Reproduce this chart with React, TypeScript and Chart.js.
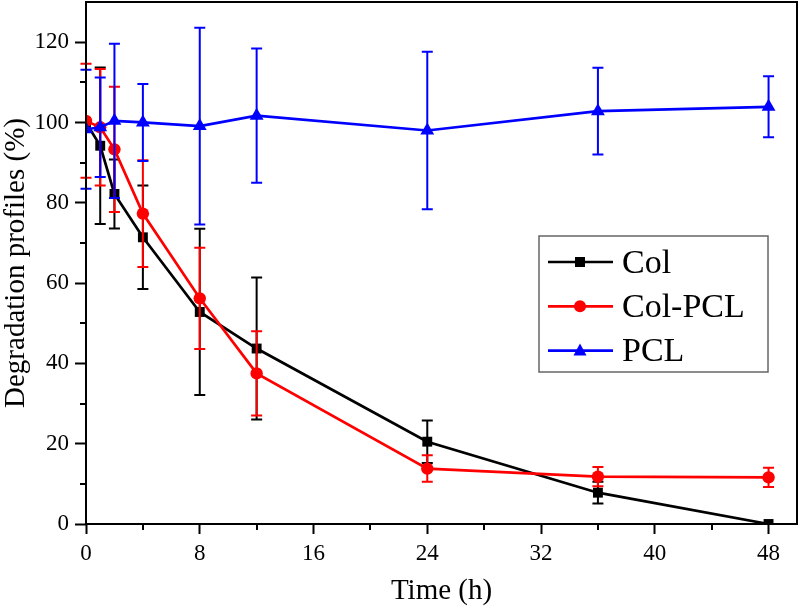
import React, { useEffect, useRef } from "react";
import { Chart, registerables } from "chart.js";

Chart.register(...registerables);

// ---- data ----
const timePoints = [0, 1, 2, 4, 8, 12, 24, 36, 48];

const colValues = [100, 94.2, 82.2, 71.4, 52.8, 43.7, 20.5, 7.8, 0];
const colErrors = [0, 19.5, 8.6, 12.9, 20.7, 17.7, 5.3, 2.7, 0];

const colPclValues = [100.4, 98.8, 93.3, 77.3, 56.2, 37.5, 13.8, 11.8, 11.6];
const colPclErrors = [14.2, 14.5, 15.6, 13.3, 12.6, 10.5, 3.3, 2.4, 2.4];

const pclValues = [98.3, 98.8, 100.4, 100.0, 99.1, 101.7, 98.0, 102.8, 103.9];
const pclErrors = [14.8, 12.4, 19.2, 9.6, 24.5, 16.7, 19.6, 10.8, 7.6];

const xMajorTicks = [0, 8, 16, 24, 32, 40, 48];
const xMinorTicks = [4, 12, 20, 28, 36, 44];
const yMajorTicks = [0, 20, 40, 60, 80, 100, 120];
const yMinorTicks = [10, 30, 50, 70, 90, 110];

const seriesNames = ["Col", "Col-PCL", "PCL"];
const seriesColors = ["#000000", "#ff0000", "#0000ff"];
const seriesMarkers = ["rect", "circle", "triangle"];
const seriesRadii = [7, 6.2, 8];

const SERIF = "'Liberation Serif', 'Times New Roman', serif";

const errorBarPlugin = {
  id: "errorBars",
  beforeDatasetDraw(chart: any, args: any) {
    const ds: any = chart.data.datasets[args.index];
    const errs: number[] = ds.errors || [];
    const ys = chart.scales.y;
    const ctx = chart.ctx;
    ctx.save();
    ctx.strokeStyle = ds.borderColor;
    ctx.lineWidth = 2;
    args.meta.data.forEach((pt: any, i: number) => {
      const e = errs[i];
      if (!e) return;
      const v = ds.data[i].y;
      const x = pt.x;
      const yt = ys.getPixelForValue(v + e);
      const yb = ys.getPixelForValue(v - e);
      const cap = 5.5;
      ctx.beginPath();
      ctx.moveTo(x, yt);
      ctx.lineTo(x, yb);
      ctx.moveTo(x - cap, yt);
      ctx.lineTo(x + cap, yt);
      ctx.moveTo(x - cap, yb);
      ctx.lineTo(x + cap, yb);
      ctx.stroke();
    });
    ctx.restore();
  },
};

const framePlugin = {
  id: "frameAndMinor",
  afterDatasetsDraw(chart: any) {
    const { ctx, chartArea } = chart;
    const xs = chart.scales.x;
    const ys = chart.scales.y;
    ctx.save();
    ctx.strokeStyle = "#000";
    ctx.lineWidth = 2;
    ctx.strokeRect(chartArea.left, chartArea.top, chartArea.right - chartArea.left, chartArea.bottom - chartArea.top);
    ctx.beginPath();
    xMinorTicks.forEach((v) => {
      const px = Math.round(xs.getPixelForValue(v));
      ctx.moveTo(px, chartArea.bottom);
      ctx.lineTo(px, chartArea.bottom + 6);
    });
    yMinorTicks.forEach((v) => {
      const py = Math.round(ys.getPixelForValue(v));
      ctx.moveTo(chartArea.left, py);
      ctx.lineTo(chartArea.left - 6, py);
    });
    ctx.stroke();
    ctx.restore();
  },
};

const legendPlugin = {
  id: "boxLegend",
  afterDraw(chart: any) {
    const { ctx, chartArea } = chart;
    const left = chartArea.right - 258;
    const top = chartArea.top + 234;
    const w = 229;
    const h = 136;
    ctx.save();
    ctx.fillStyle = "#fff";
    ctx.fillRect(left, top, w, h);
    ctx.strokeStyle = "#666";
    ctx.lineWidth = 1.5;
    ctx.strokeRect(left, top, w, h);
    ctx.font = `34px ${SERIF}`;
    ctx.textBaseline = "alphabetic";
    ctx.textAlign = "left";
    seriesNames.forEach((name, i) => {
      const cy = top + 26 + i * 44.3;
      const color = seriesColors[i];
      ctx.strokeStyle = color;
      ctx.lineWidth = 2.7;
      ctx.beginPath();
      ctx.moveTo(left + 9, cy);
      ctx.lineTo(left + 74, cy);
      ctx.stroke();
      ctx.fillStyle = color;
      ctx.beginPath();
      const mx = left + 41;
      if (seriesMarkers[i] === "rect") {
        ctx.rect(mx - 5, cy - 5, 10, 10);
      } else if (seriesMarkers[i] === "circle") {
        ctx.arc(mx, cy, 6, 0, Math.PI * 2);
      } else {
        ctx.moveTo(mx, cy - 7);
        ctx.lineTo(mx + 6.5, cy + 5);
        ctx.lineTo(mx - 6.5, cy + 5);
        ctx.closePath();
      }
      ctx.fill();
      ctx.fillStyle = "#000";
      ctx.fillText(name, left + 83, cy + 10.5);
    });
    ctx.restore();
  },
};

function makeDataset(i: number, values: number[], errors: number[]) {
  return {
    label: seriesNames[i],
    data: timePoints.map((t, k) => ({ x: t, y: values[k] })),
    errors,
    borderColor: seriesColors[i],
    backgroundColor: seriesColors[i],
    borderWidth: 2.7,
    pointStyle: seriesMarkers[i],
    pointRadius: seriesRadii[i],
    pointBorderWidth: 0,
    pointBackgroundColor: seriesColors[i],
    tension: 0,
    order: 3 - i,
  };
}

function zeroPadding(s: any) {
  s.paddingTop = 0;
  s.paddingBottom = 0;
  s.paddingLeft = 0;
  s.paddingRight = 0;
}

export default function App() {
  const ref = useRef<HTMLCanvasElement | null>(null);

  useEffect(() => {
    if (!ref.current) return;
    const chart = new Chart(ref.current, {
      type: "line",
      data: {
        datasets: [
          makeDataset(0, colValues, colErrors),
          makeDataset(1, colPclValues, colPclErrors),
          makeDataset(2, pclValues, pclErrors),
        ] as any,
      },
      options: {
        animation: false,
        responsive: false,
        devicePixelRatio: 1,
        layout: { autoPadding: false, padding: { left: 0, top: 2, right: 3, bottom: 0 } },
        plugins: { legend: { display: false }, tooltip: { enabled: false } },
        scales: {
          x: {
            type: "linear",
            min: 0,
            max: 50,
            afterBuildTicks: (s: any) => {
              s.ticks = xMajorTicks.map((v) => ({ value: v }));
            },
            afterFit: (s: any) => {
              s.height = 88;
              zeroPadding(s);
            },
            border: { display: false },
            grid: {
              display: true,
              drawOnChartArea: false,
              drawTicks: true,
              tickLength: 10,
              tickWidth: 2,
              tickColor: "#000",
            },
            ticks: {
              color: "#000",
              font: { family: SERIF, size: 23, lineHeight: 1 },
              padding: 8,
              maxRotation: 0,
            },
            title: {
              display: true,
              text: "Time (h)",
              color: "#000",
              font: { family: SERIF, size: 29, lineHeight: 1 },
              padding: { top: 0, bottom: 6 },
            },
          },
          y: {
            type: "linear",
            min: 0,
            max: 130,
            afterBuildTicks: (s: any) => {
              s.ticks = yMajorTicks.map((v) => ({ value: v }));
            },
            afterFit: (s: any) => {
              s.width = 86;
              zeroPadding(s);
            },
            border: { display: false },
            grid: {
              display: true,
              drawOnChartArea: false,
              drawTicks: true,
              tickLength: 11,
              tickWidth: 2,
              tickColor: "#000",
            },
            ticks: {
              color: "#000",
              font: { family: SERIF, size: 23, lineHeight: 1 },
              padding: 6,
            },
            title: {
              display: true,
              text: "Degradation profiles (%)",
              color: "#000",
              font: { family: SERIF, size: 29, lineHeight: 1 },
              padding: { top: 1.5, bottom: 0 },
            },
          },
        },
      },
      plugins: [errorBarPlugin, framePlugin, legendPlugin],
    });
    return () => chart.destroy();
  }, []);

  return (
    <div style={{ position: "fixed", left: 0, top: 0, width: 800, height: 612, background: "#fff" }}>
      <canvas ref={ref} width={800} height={612} />
    </div>
  );
}
